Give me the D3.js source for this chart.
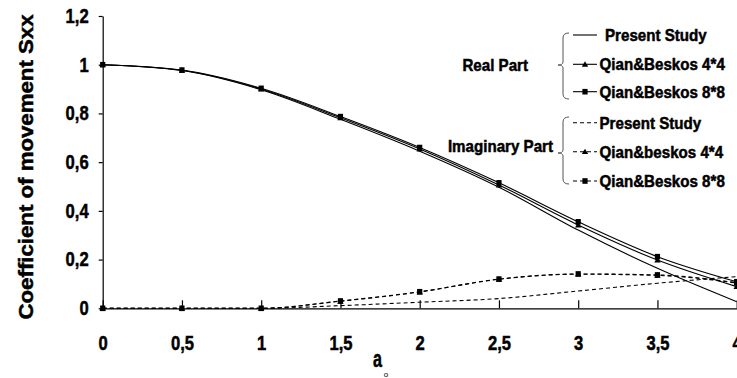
<!DOCTYPE html>
<html>
<head>
<meta charset="utf-8">
<script src="https://cdn.jsdelivr.net/npm/d3@7"></script>
<style>
  html, body { margin: 0; padding: 0; background: #fff; }
  svg { display: block; }
  text { font-family: "Liberation Sans", Arial, sans-serif; fill: #000; }
</style>
</head>
<body>
<svg id="chart" width="737" height="378"></svg>
<script>
// Dimensionless frequency a0
const freq = [0, 0.5, 1, 1.5, 2, 2.5, 3, 3.5, 4];

// Real part of Sxx
const realPresent = [1, 0.976, 0.897, 0.776, 0.645, 0.497, 0.321, 0.164, 0.027];
const realQB44    = [1, 0.977, 0.900, 0.782, 0.654, 0.506, 0.342, 0.198, 0.089];
const realQB88    = [1, 0.978, 0.903, 0.787, 0.660, 0.515, 0.355, 0.212, 0.109];

// Imaginary part of Sxx
const imagPresent = [0, 0, 0, 0.011, 0.025, 0.040, 0.071, 0.103, 0.130];
const imagQB44    = [0, 0, 0, 0.029, 0.067, 0.119, 0.140, 0.135, 0.104];
const imagQB88    = [0, 0, 0, 0.030, 0.068, 0.120, 0.141, 0.137, 0.105];

// Axis ticks
const xTicks = [0, 0.5, 1, 1.5, 2, 2.5, 3, 3.5, 4];
const yTicks = [0, 0.2, 0.4, 0.6, 0.8, 1, 1.2];

// Legend groups
const realLegend = ["Present Study", "Qian&Beskos 4*4", "Qian&Beskos 8*8"];
const imagLegend = ["Present Study", "Qian&beskos 4*4", "Qian&Beskos 8*8"];
const groupTitles = ["Real Part", "Imaginary Part"];

const svg = d3.select("#chart");
svg.append("rect").attr("width", 737).attr("height", 378).attr("fill", "#fff");

const x = d3.scaleLinear().domain([0, 4]).range([102.7, 736.7]);
const y = d3.scaleLinear().domain([0, 1.2]).range([308.3, 16]);
const fmt = d => String(d).replace(".", ",");

// Axes
const yAxis = svg.append("g").attr("transform", `translate(${x(0)},0)`)
  .call(d3.axisLeft(y).tickValues(yTicks).tickFormat(fmt)
    .tickSizeInner(4).tickSizeOuter(0).tickPadding(10));
const xAxis = svg.append("g").attr("transform", `translate(0,${y(0)})`)
  .call(d3.axisBottom(x).tickValues(xTicks).tickFormat(fmt)
    .tickSizeInner(-8).tickSizeOuter(0).tickPadding(27.5));
[yAxis, xAxis].forEach(g => {
  g.selectAll("path, line").attr("stroke", "#000").attr("stroke-width", 1.2);
  g.selectAll("text").attr("font-size", 20).attr("font-weight", "bold")
    .attr("font-family", "Liberation Sans, Arial, sans-serif").attr("fill", "#000")
    .classed("narrow", true).classed("heavy", true);
});

// Series
const series = [
  { v: realPresent, dash: null, marker: null },
  { v: realQB44, dash: null, marker: "tri" },
  { v: realQB88, dash: null, marker: "sq" },
  { v: imagPresent, dash: "4,3", marker: null },
  { v: imagQB44, dash: "4,3", marker: "tri" },
  { v: imagQB88, dash: "4,3", marker: "sq" }
];

const line = d3.line().x((d, i) => x(freq[i])).y(d => y(d)).curve(d3.curveMonotoneX);

const plot = svg.append("g");
series.forEach(s => {
  plot.append("path").datum(s.v).attr("d", line)
    .attr("fill", "none").attr("stroke", "#000").attr("stroke-width", 1.1)
    .attr("stroke-dasharray", s.dash);
});

function drawMarker(g, type, cx, cy) {
  if (type === "sq") {
    g.append("rect").attr("x", cx - 2.6).attr("y", cy - 2.8)
      .attr("width", 5.2).attr("height", 5.6).attr("fill", "#000");
  } else if (type === "tri") {
    g.append("path").attr("d", `M${cx - 3.2},${cy + 2.4}L${cx + 3.2},${cy + 2.4}L${cx},${cy - 3}Z`)
      .attr("fill", "#000");
  }
}
series.forEach(s => {
  if (!s.marker) return;
  s.v.forEach((d, i) => drawMarker(plot, s.marker, x(freq[i]), y(d)));
});

// Legend
const legend = svg.append("g");
const groups = [
  { title: groupTitles[0], labels: realLegend, rows: [35, 64.3, 91.7], brace: [33, 65, 99], titleX: 528, titleY: 71, dash: null },
  { title: groupTitles[1], labels: imagLegend, rows: [122.7, 151.7, 181], brace: [117, 153, 184], titleX: 553, titleY: 152, dash: "4,3" }
];
const markerTypes = [null, "tri", "sq"];
groups.forEach((gr, gi) => {
  legend.append("text").attr("x", gr.titleX).attr("y", gr.titleY)
    .attr("text-anchor", "end").attr("font-size", 17).attr("font-weight", "bold")
    .classed("narrowL", true).classed("heavy", true).text(gr.title);
  const [t, m, b] = gr.brace;
  const bx = 563, tipX = 558;
  legend.append("path")
    .attr("d", `M${bx + 6},${t}Q${bx},${t} ${bx},${t + 5}L${bx},${m - 3}Q${bx},${m} ${tipX},${m}` +
               `Q${bx},${m} ${bx},${m + 3}L${bx},${b - 5}Q${bx},${b} ${bx + 6},${b}`)
    .attr("fill", "none").attr("stroke", "#555").attr("stroke-width", 1);
  gr.labels.forEach((lab, i) => {
    const ry = gr.rows[i];
    legend.append("line").attr("x1", 573).attr("x2", 597).attr("y1", ry).attr("y2", ry)
      .attr("stroke", "#000").attr("stroke-width", 1.1).attr("stroke-dasharray", gr.dash);
    drawMarker(legend, markerTypes[i], 585, ry);
    legend.append("text").attr("x", (i === 0 && gi === 0) ? 605 : 599.5).attr("y", ry).attr("dy", "0.36em")
      .attr("font-size", 17).attr("font-weight", "bold")
      .classed("narrowL", true).classed("heavy", true).text(lab);
  });
});

// Axis titles
svg.append("text").attr("transform", "translate(33,167) rotate(-90)")
  .attr("text-anchor", "middle").attr("font-size", 21).attr("font-weight", "bold")
  .attr("textLength", 305).attr("lengthAdjust", "spacingAndGlyphs")
  .classed("heavy", true)
  .text("Coefficient of movement Sxx");
svg.append("text").attr("x", 377.5).attr("y", 367).attr("text-anchor", "middle")
  .attr("font-size", 23).attr("font-weight", "bold").classed("narrowA", true).classed("heavy", true).text("a");
svg.append("text").attr("x", 386).attr("y", 377).attr("text-anchor", "middle")
  .attr("font-size", 8).text("o");

// Condense the bold labels horizontally and give them a heavier stroke
function condense(sel, k) {
  sel.each(function () {
    const w = this.getComputedTextLength();
    this.setAttribute("textLength", (w * k).toFixed(2));
    this.setAttribute("lengthAdjust", "spacingAndGlyphs");
  });
}
condense(svg.selectAll("text.narrow"), 0.83);
condense(svg.selectAll("text.narrowL"), 0.89);
condense(svg.selectAll("text.narrowA"), 0.7);
svg.selectAll("text.heavy").attr("stroke", "#000").attr("stroke-width", 0.5);
</script>
</body>
</html>
